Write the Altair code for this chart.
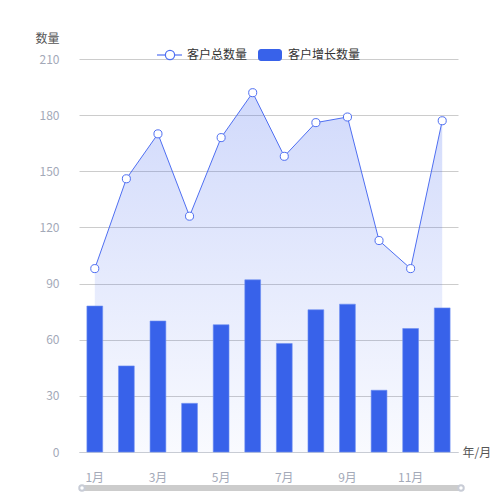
import altair as alt
import pandas as pd

months = ["1月", "2月", "3月", "4月", "5月", "6月", "7月", "8月", "9月", "10月", "11月", "12月"]
total = [98, 146, 170, 126, 168, 192, 158, 176, 179, 113, 98, 177]
growth = [78, 46, 70, 26, 68, 92, 58, 76, 79, 33, 66, 77]
y_ticks = [0, 30, 60, 90, 120, 150, 180, 210]
x_labels = ["1月", "3月", "5月", "7月", "9月", "11月"]
legend_names = ["客户总数量", "客户增长数量"]

LINE = "#4f6ff2"
BAR = "#3862ea"
FONT = "Noto Sans CJK SC"

df = pd.DataFrame({"month": months, "total": total, "growth": growth})

W, H = 379, 393

x_enc = alt.X(
    "month:N", sort=months,
    scale=alt.Scale(paddingInner=0.5, paddingOuter=0.25),
    axis=alt.Axis(values=x_labels, labelAngle=0, ticks=False, domainColor="#c8ccd4",
                  labelColor="#a3a9b8", labelFontSize=12, labelPadding=20, grid=False,
                  title="年/月", titleX=383, titleY=0, titleAlign="left",
                  titleBaseline="middle", titleColor="#555", titleFontWeight="normal",
                  titleFontSize=12),
)


def y_enc(field):
    return alt.Y(
        f"{field}:Q",
        scale=alt.Scale(domain=[0, 210], nice=False),
        axis=alt.Axis(values=y_ticks, grid=True, gridColor="#cccccc", domain=False, ticks=False,
                      labelColor="#a3a9b8", labelFontSize=12, labelPadding=20,
                      title="数量", titleAngle=0, titleX=-32, titleY=-21, titleAlign="center",
                      titleBaseline="middle", titleColor="#555", titleFontWeight="normal",
                      titleFontSize=12),
    )


base = alt.Chart(df)

area = base.mark_area(
    color={"gradient": "linear", "x1": 0, "y1": 0, "x2": 0, "y2": 1,
           "stops": [{"offset": 0, "color": "rgba(70,105,240,0.25)"},
                     {"offset": 1, "color": "rgba(70,105,240,0.03)"}]}
).encode(x=x_enc, y=y_enc("total"))

line = base.mark_line(color=LINE, strokeWidth=1).encode(x=x_enc, y=y_enc("total"))

bars = base.mark_bar(color=BAR, stroke="#6d8ef2", strokeWidth=0.6).encode(x=x_enc, y=y_enc("growth"))

points = base.mark_point(filled=True, fill="white", stroke=LINE, strokeWidth=1, size=65, opacity=1).encode(
    x=x_enc, y=y_enc("total"))

leg1 = pd.DataFrame({"name": [legend_names[0]]})
leg2 = pd.DataFrame({"name": [legend_names[1]]})

leg_line = alt.Chart(leg1).mark_rule(color=LINE, strokeWidth=1.2).encode(
    x=alt.value(78), x2=alt.value(103), y=alt.value(-4))
leg_pt = alt.Chart(leg1).mark_point(filled=True, fill="white", stroke=LINE, strokeWidth=1.2, size=85, opacity=1).encode(
    x=alt.value(91), y=alt.value(-4))
leg_t1 = alt.Chart(leg1).mark_text(align="left", baseline="middle", fontSize=12, color="#333", font=FONT).encode(
    x=alt.value(108), y=alt.value(-4), text="name:N")
leg_rect = alt.Chart(leg2).mark_rect(color=BAR, cornerRadius=3).encode(
    x=alt.value(179), x2=alt.value(203), y=alt.value(-10), y2=alt.value(2))
leg_t2 = alt.Chart(leg2).mark_text(align="left", baseline="middle", fontSize=12, color="#333", font=FONT).encode(
    x=alt.value(209), y=alt.value(-4), text="name:N")

slider = alt.Chart(leg1).mark_rule(color="#cccccc", strokeWidth=6, strokeCap="round").encode(
    x=alt.value(3), x2=alt.value(382), y=alt.value(429))
handle_l = alt.Chart(leg1).mark_point(filled=True, fill="white", stroke="#c8ccd6", size=30, opacity=1).encode(
    x=alt.value(3), y=alt.value(429))
handle_r = alt.Chart(leg1).mark_point(filled=True, fill="white", stroke="#c8ccd6", size=30, opacity=1).encode(
    x=alt.value(382), y=alt.value(429))

chart = alt.layer(
    area, line, bars, points, leg_line, leg_pt, leg_t1, leg_rect, leg_t2, slider, handle_l, handle_r
).properties(
    width=W, height=H,
    padding={"left": 71, "top": 51, "right": 34, "bottom": 40},
    autosize=alt.AutoSizeParams(type="none"),
).configure(font=FONT).configure_view(strokeWidth=0, stroke="transparent")

chart.save("out.html", embed_options={"renderer": "svg", "actions": False})
